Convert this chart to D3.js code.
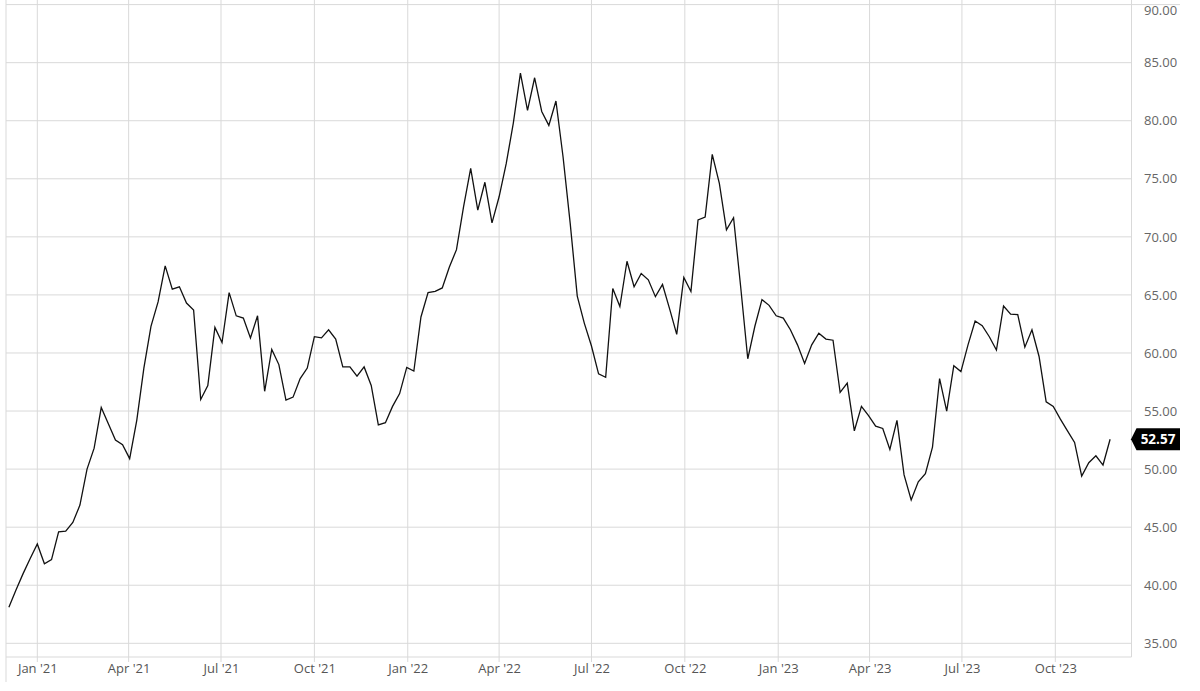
<!DOCTYPE html>
<html>
<head>
<meta charset="utf-8">
<title>Weekly price chart</title>
<script src="https://d3js.org/d3.v7.min.js"></script>
<style>
  body { margin: 0; background: #fff; }
  svg text { font-family: "Open Sans", sans-serif; }
</style>
</head>
<body>
<div id="chart"></div>
<script>
// weekly closes, first week dated Fri 4 Dec 2020
var startDate = "2020-12-04";
var closes = [
  38.1, 39.6, 41.0, 42.3, 43.55, 41.85, 42.2, 44.6, 44.65, 45.4,
  46.9, 50.0, 51.8, 55.3, 53.9, 52.5, 52.1, 50.9, 54.2, 58.7,
  62.3, 64.4, 67.5, 65.5, 65.7, 64.3, 63.7, 56.0, 57.2, 62.2,
  60.9, 65.2, 63.2, 63.0, 61.3, 63.2, 56.7, 60.3, 59.0, 55.95,
  56.2, 57.8, 58.7, 61.4, 61.3, 62.0, 61.2, 58.8, 58.8, 58.0,
  58.8, 57.2, 53.8, 54.0, 55.4, 56.5, 58.76, 58.45, 63.1, 65.2,
  65.3, 65.6, 67.4, 68.9, 72.6, 75.9, 72.3, 74.7, 71.2, 73.45,
  76.3, 79.8, 84.1, 80.9, 83.7, 80.8, 79.6, 81.7, 76.9, 71.2,
  64.9, 62.55, 60.6, 58.2, 57.9, 65.55, 64.0, 67.9, 65.7, 66.85,
  66.3, 64.85, 65.9, 63.8, 61.6, 66.5, 65.3, 71.45, 71.7, 77.1,
  74.6, 70.6, 71.65, 65.7, 59.5, 62.3, 64.6, 64.1, 63.2, 63.0,
  62.0, 60.7, 59.1, 60.7, 61.7, 61.2, 61.1, 56.6, 57.4, 53.3,
  55.4, 54.6, 53.7, 53.5, 51.7, 54.2, 49.5, 47.35, 48.9, 49.6,
  51.9, 57.8, 55.0, 58.9, 58.4, 60.7, 62.75, 62.35, 61.4, 60.25,
  64.05, 63.35, 63.3, 60.5, 62.0, 59.7, 55.8, 55.4, 54.3, 53.3,
  52.3, 49.4, 50.55, 51.15, 50.35, 52.57
];

var yTicks = [35, 40, 45, 50, 55, 60, 65, 70, 75, 80, 85, 90];
var xTickDates = ["2021-01-01", "2021-04-01", "2021-07-01", "2021-10-01",
                  "2022-01-01", "2022-04-01", "2022-07-01", "2022-10-01",
                  "2023-01-01", "2023-04-01", "2023-07-01", "2023-10-01"];
var xTickLabels = ["Jan '21", "Apr '21", "Jul '21", "Oct '21",
                   "Jan '22", "Apr '22", "Jul '22", "Oct '22",
                   "Jan '23", "Apr '23", "Jul '23", "Oct '23"];

var width = 1200, height = 691;
var left = 6, right = 1131.5, bottom = 657;
var gridColor = "#d9d9d9";

var parse = d3.utcParse("%Y-%m-%d");
var start = parse(startDate);
var data = closes.map(function(v, i) {
  return { date: d3.utcDay.offset(start, 7 * i), value: v };
});
var tickDates = xTickDates.map(parse);

var x = d3.scaleUtc()
  .domain([parse("2021-01-01"), parse("2023-10-01")])
  .range([37.3, 1055.3]);

var y = d3.scaleLinear()
  .domain([35, 90])
  .range([643.3, 4.6]);

var svg = d3.select("#chart")
  .append("svg")
    .attr("width", width)
    .attr("height", height);

// horizontal grid
svg.append("g")
  .selectAll("line")
  .data(yTicks)
  .enter()
  .append("line")
    .attr("x1", left)
    .attr("x2", function(d) { return d === 90 ? 1180 : right; })
    .attr("y1", function(d) { return y(d); })
    .attr("y2", function(d) { return y(d); })
    .attr("stroke", gridColor)
    .attr("stroke-width", 1);

// vertical grid, running a little past the bottom border as ticks
svg.append("g")
  .selectAll("line")
  .data(tickDates)
  .enter()
  .append("line")
    .attr("x1", function(d) { return x(d); })
    .attr("x2", function(d) { return x(d); })
    .attr("y1", 0)
    .attr("y2", bottom + 5)
    .attr("stroke", gridColor)
    .attr("stroke-width", 1);

// frame
svg.append("line")
  .attr("x1", left).attr("x2", right)
  .attr("y1", bottom).attr("y2", bottom)
  .attr("stroke", gridColor);
svg.append("line")
  .attr("x1", right).attr("x2", right)
  .attr("y1", 0).attr("y2", bottom)
  .attr("stroke", gridColor);
svg.append("line")
  .attr("x1", left).attr("x2", left)
  .attr("y1", 0).attr("y2", 682)
  .attr("stroke", gridColor);

// y axis labels on the right
var yAxis = d3.axisRight(y)
  .tickValues(yTicks)
  .tickSize(0)
  .tickPadding(0)
  .tickFormat(d3.format(".2f"));

var gy = svg.append("g")
  .attr("transform", "translate(1144,0)")
  .call(yAxis);
gy.select(".domain").remove();
gy.selectAll("text")
  .attr("fill", "#666")
  .style("font-size", "13px");
// top label sits on the chart edge; nudge it so it stays inside
gy.selectAll(".tick")
  .filter(function(d) { return d === 90; })
  .select("text")
  .attr("y", 6);

// x axis labels
var xAxis = d3.axisBottom(x)
  .tickValues(tickDates)
  .tickSize(0)
  .tickPadding(0)
  .tickFormat(function(d, i) { return xTickLabels[i]; });

var gx = svg.append("g")
  .attr("transform", "translate(0,664)")
  .call(xAxis);
gx.select(".domain").remove();
gx.selectAll("text")
  .attr("fill", "#555")
  .style("font-size", "13px");

// price line
var line = d3.line()
  .x(function(d) { return x(d.date); })
  .y(function(d) { return y(d.value); });

svg.append("path")
  .datum(data)
  .attr("fill", "none")
  .attr("stroke", "#111")
  .attr("stroke-width", 1.3)
  .attr("stroke-linejoin", "miter")
  .attr("d", line);

// last value tag
var last = data[data.length - 1];
var ty = y(last.value);
var tag = svg.append("g").attr("transform", "translate(0," + ty + ")");
tag.append("path")
  .attr("d", "M" + (right - 0.5) + ",0 L" + (right + 5) + ",-11 L1180,-11 L1180,11 L" + (right + 5) + ",11 Z")
  .attr("fill", "#000");
tag.append("text")
  .attr("x", 1158)
  .attr("y", 0)
  .attr("dy", "0.35em")
  .attr("text-anchor", "middle")
  .attr("fill", "#fff")
  .style("font-size", "13.5px")
  .style("font-weight", "bold")
  .text(d3.format(".2f")(last.value));
</script>
</body>
</html>
